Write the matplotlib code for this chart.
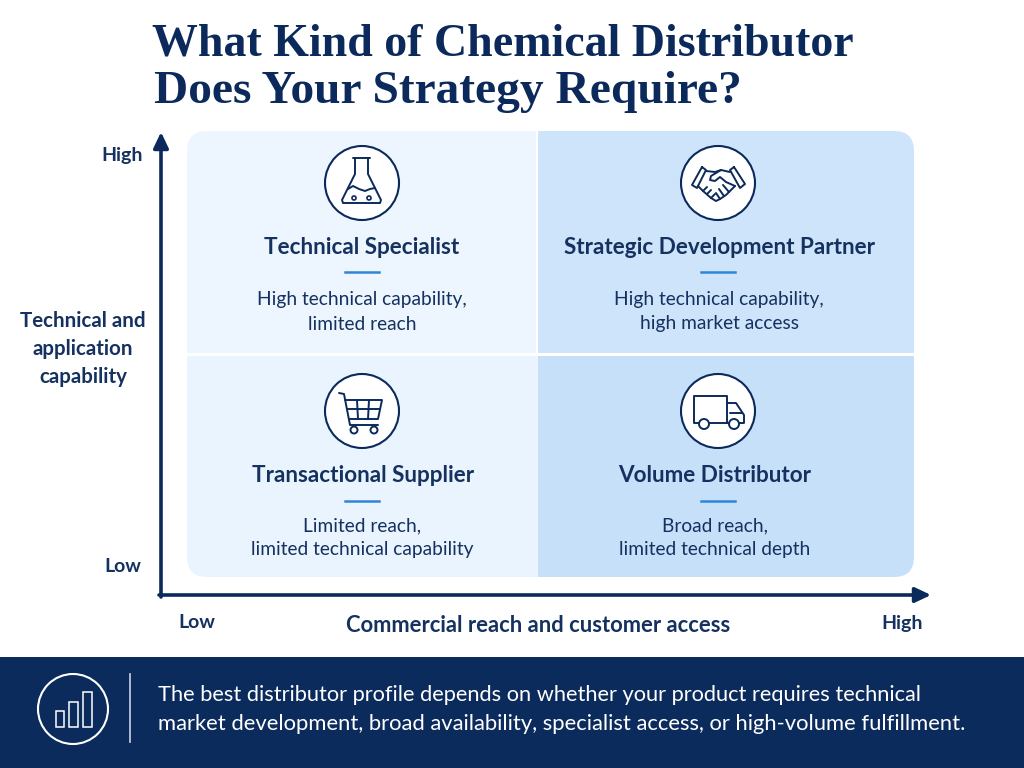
#!/usr/bin/env python3
"""Distributor strategy 2x2 matrix, drawn in pixel coordinates"""

import matplotlib
matplotlib.use("Agg")
import matplotlib.pyplot as plt
from matplotlib.patches import Circle, FancyBboxPatch, Rectangle

NAVY = "#0B2A5B"
TEXT = "#14315F"
ACCENT = "#2F86D9"

title_lines = ["What Kind of Chemical Distributor", "Does Your Strategy Require?"]
quadrant_names = ["Technical Specialist", "Strategic Development Partner",
                  "Transactional Supplier", "Volume Distributor"]
quadrant_notes = ["High technical capability,\nlimited reach",
                  "High technical capability,\nhigh market access",
                  "Limited reach,\nlimited technical capability",
                  "Broad reach,\nlimited technical depth"]
quadrant_colors = ["#EDF5FE", "#CDE4FB", "#EAF4FE", "#C6E0FA"]
y_axis_label = "Technical and\napplication\ncapability"
x_axis_label = "Commercial reach and customer access"
axis_ends = ["Low", "High"]
footer_lines = ["The best distributor profile depends on whether your product requires technical",
                "market development, broad availability, specialist access, or high-volume fulfillment."]

fig = plt.figure(figsize=(10.24, 7.68), dpi=100)
ax = fig.add_axes([0, 0, 1, 1])
ax.set_xlim(0, 1024)
ax.set_ylim(768, 0)
ax.axis("off")


def line(points, cx, cy, color=NAVY, lw=1.4):
    ax.plot([cx + p[0] for p in points], [cy + p[1] for p in points], color=color,
            lw=lw, solid_capstyle="round", solid_joinstyle="round", zorder=6)


def ring(cx, cy, r, face="none", color=NAVY, lw=1.4):
    ax.add_patch(Circle((cx, cy), r, fc=face, ec=color, lw=lw, zorder=6))


def flask(cx, cy):
    line([(-9, -25), (8, -25)], cx, cy)
    line([(-7, -25), (-7, -9), (-20, 17), (-19, 20), (18, 20), (19, 17), (6, -9), (6, -25)], cx, cy)
    line([(-14, 6), (-9, 3), (-3, 6), (3, 8), (8, 6), (13, 5)], cx, cy)
    ring(cx - 8, cy + 15, 2, lw=1.2)
    ring(cx + 7, cy + 15, 2, lw=1.2)


def handshake(cx, cy):
    line([(-16, -16), (-26, 2), (-21, 5), (-12, -13), (-16, -16)], cx, cy)
    line([(16, -16), (27, 1), (22, 5), (12, -13), (16, -16)], cx, cy)
    line([(-12, -12), (-3, -11), (3, -13), (12, -11)], cx, cy)
    line([(3, -13), (-7, -7), (-8, -3), (-3, -2), (2, -6), (8, -1), (17, 3)], cx, cy)
    line([(-20, 3), (-15, 8), (-7, 15), (-2, 18), (2, 16), (8, 12), (17, 3)], cx, cy)
    line([(-15, 8), (-11, 4)], cx, cy)
    line([(-11, 11), (-7, 7)], cx, cy)
    line([(-7, 15), (-3, 11)], cx, cy)
    line([(2, 16), (-2, 10)], cx, cy)
    line([(6, 13), (1, 6)], cx, cy)
    line([(11, 9), (5, 2)], cx, cy)


def cart(cx, cy):
    line([(-23, -18), (-18, -17), (-12, 14), (16, 14)], cx, cy)
    line([(-17, -11), (20, -11), (16, 8), (-13, 8)], cx, cy)
    line([(-15, -2), (18, -2)], cx, cy)
    line([(-5, -11), (-4, 8)], cx, cy)
    line([(7, -11), (6, 8)], cx, cy)
    ring(cx - 8, cy + 19, 3.5)
    ring(cx + 12, cy + 19, 3.5)


def truck(cx, cy):
    line([(-10, 12), (-24, 12), (-24, -15), (9, -15), (9, 12), (-10, 12)], cx, cy)
    line([(9, -8), (18, -8), (26, 4), (26, 12), (21, 12)], cx, cy)
    line([(9, 12), (11, 12)], cx, cy)
    line([(12, 2), (24, 2)], cx, cy)
    ring(cx - 14, cy + 13, 5, face="white")
    ring(cx + 16, cy + 13, 5, face="white")


# quadrants, clipped to one rounded panel
panel = FancyBboxPatch((187, 131), 727, 446, boxstyle="round,pad=0,rounding_size=20",
                       fc="none", ec="none", transform=ax.transData)
ax.add_patch(panel)
cells = [(187, 131, 351, 222), (538, 131, 376, 222), (187, 353, 351, 224), (538, 353, 376, 224)]
for (x, y, w, h), color in zip(cells, quadrant_colors):
    cell = Rectangle((x, y), w, h, fc=color, ec="none", zorder=2)
    ax.add_patch(cell)
    cell.set_clip_path(panel)
ax.plot([187, 914], [354, 354], color="white", lw=2.2, zorder=3)
ax.plot([537, 537], [131, 354], color="white", lw=1.5, zorder=3)

# quadrant contents
centers_x = [362, 718, 362, 718]
name_x = [362, 719, 363, 715]
name_y = [247, 247, 475, 475]
icon_y = [183, 183, 411, 411]
rule_y = [272, 272, 501, 501]
note_x = [362, 719, 362, 715]
note_y = [312, 312, 538, 538]
icons = [flask, handshake, cart, truck]
for i in range(4):
    cx = centers_x[i]
    ax.add_patch(Circle((cx, icon_y[i]), 37, fc="white", ec=NAVY, lw=1.5, zorder=5))
    icons[i](cx, icon_y[i])
    ax.text(name_x[i], name_y[i], quadrant_names[i], ha="center", va="center", color=TEXT,
            fontfamily="Lato", fontweight="bold", fontsize=16.2, zorder=6)
    ax.plot([cx - 17, cx + 17], [rule_y[i]] * 2, color=ACCENT, lw=1.8, zorder=6)
    ax.text(note_x[i], note_y[i], quadrant_notes[i], ha="center", va="center", color=TEXT,
            fontfamily="Lato", fontsize=13.8, linespacing=1.5, zorder=6)

# axes
head = "-|>,head_length=0.95,head_width=0.45"
ax.annotate("", xy=(161, 132), xytext=(161, 597),
            arrowprops=dict(arrowstyle=head, color=NAVY, lw=2.6, shrinkA=0, shrinkB=0))
ax.annotate("", xy=(931, 595), xytext=(159, 595),
            arrowprops=dict(arrowstyle=head, color=NAVY, lw=2.6, shrinkA=0, shrinkB=0))

ax.text(122, 156, axis_ends[1], ha="center", va="center", color=TEXT, fontfamily="Lato",
        fontweight="bold", fontsize=14)
ax.text(123, 566, axis_ends[0], ha="center", va="center", color=TEXT, fontfamily="Lato",
        fontweight="bold", fontsize=14)
ax.text(197, 623, axis_ends[0], ha="center", va="center", color=TEXT, fontfamily="Lato",
        fontweight="bold", fontsize=14)
ax.text(902, 623, axis_ends[1], ha="center", va="center", color=TEXT, fontfamily="Lato",
        fontweight="bold", fontsize=14)
ax.text(83, 349, y_axis_label, ha="center", va="center", color=TEXT, fontfamily="Lato",
        fontweight="bold", fontsize=14.8, linespacing=1.47)
ax.text(538, 626, x_axis_label, ha="center", va="center", color=TEXT, fontfamily="Lato",
        fontweight="bold", fontsize=15.8)

# title
ax.text(152, 44, title_lines[0], ha="left", va="center", color=NAVY,
        fontfamily="Liberation Serif", fontweight="bold", fontsize=33)
ax.text(154, 92, title_lines[1], ha="left", va="center", color=NAVY,
        fontfamily="Liberation Serif", fontweight="bold", fontsize=34.1)

# footer band
ax.add_patch(Rectangle((0, 657), 1024, 111, fc="#0A2B5C", ec="none", zorder=2))
ring(73, 709, 35, color="white", lw=1.5)
bars = [(56, 711, 8, 16), (69, 702, 9, 25), (83, 692, 9, 35)]
for x, y, w, h in bars:
    ax.add_patch(Rectangle((x, y), w, h, fc="none", ec="white", lw=1.1, zorder=6))
ax.plot([130, 130], [674, 742], color="#C9D4E4", lw=1.2, zorder=6)
ax.text(158, 695, footer_lines[0], ha="left", va="center", color="white",
        fontfamily="Lato", fontsize=15.7, zorder=6)
ax.text(158, 724, footer_lines[1], ha="left", va="center", color="white",
        fontfamily="Lato", fontsize=15.8, zorder=6)

fig.savefig("out.png", dpi=100, facecolor="white")
